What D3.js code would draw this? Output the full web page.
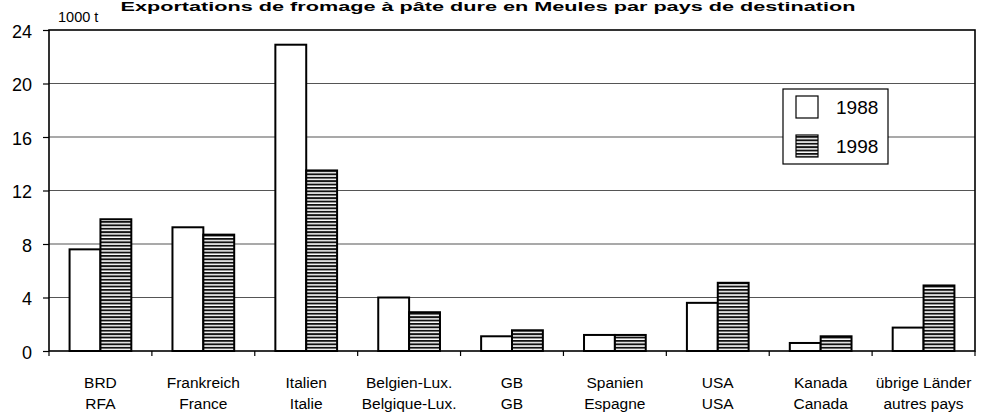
<!DOCTYPE html>
<html><head><meta charset="utf-8">
<script src="https://cdn.jsdelivr.net/npm/d3@7"></script>
<style>body{margin:0;background:#fff}svg{display:block}text{font-family:"Liberation Sans",Arial,sans-serif}</style>
</head><body><svg id="c" width="989" height="412"></svg>
<script>
const title = "Exportations de fromage à pâte dure en Meules par pays de destination";
const catDe = ["BRD","Frankreich","Italien","Belgien-Lux.","GB","Spanien","USA","Kanada","übrige Länder"];
const catFr = ["RFA","France","Italie","Belgique-Lux.","GB","Espagne","USA","Canada","autres pays"];
const seriesNames = ["1988","1998"];
const v1988 = [7.6, 9.25, 22.9, 4.0, 1.1, 1.2, 3.6, 0.6, 1.75];
const v1998 = [9.85, 8.7, 13.5, 2.9, 1.55, 1.2, 5.1, 1.1, 4.9];
const yTicks = [0,4,8,12,16,20,24];
const unit = "1000 t";

const svg = d3.select("#c");
const m = {l:49, r:975, t:30, b:351};
const defs = svg.append("defs");
const pat = defs.append("pattern").attr("id","hatch").attr("patternUnits","userSpaceOnUse")
  .attr("width",8).attr("height",3.4);
pat.append("rect").attr("width",8).attr("height",3.4).attr("fill","#fff");
pat.append("rect").attr("y",0).attr("width",8).attr("height",1.9).attr("fill","#111");

const x = d3.scaleBand().domain(d3.range(catDe.length)).range([m.l,m.r]).paddingInner(0.4).paddingOuter(0.2);
const xs = d3.scaleBand().domain([0,1]).range([0,x.bandwidth()]);
const y = d3.scaleLinear().domain([0,24]).range([m.b,m.t]);

// title
svg.append("text").attr("x",488).attr("y",11).attr("text-anchor","middle")
  .attr("font-size",13).attr("font-weight","bold")
  .attr("textLength",735).attr("lengthAdjust","spacingAndGlyphs").text(title);

// gridlines
svg.append("g").selectAll("line").data(yTicks.filter(d=>d>0&&d<24)).join("line")
  .attr("x1",m.l).attr("x2",m.r).attr("y1",d=>y(d)).attr("y2",d=>y(d))
  .attr("stroke","#555").attr("stroke-width",1.2);

// y axis
const ya = svg.append("g").attr("transform",`translate(${m.l},0)`)
  .call(d3.axisLeft(y).tickValues(yTicks).tickSize(6).tickPadding(11));
ya.select(".domain").remove();
ya.selectAll("line").attr("stroke","#000").attr("stroke-width",1.2);
ya.selectAll("text").attr("font-size",18).attr("fill","#000").attr("dy","0.4em")
  .style("font-family","Liberation Sans, Arial, sans-serif");

svg.append("text").attr("x",58).attr("y",22).attr("font-size",14.5).text(unit);

// bars
const data = catDe.map((c,i)=>({i, vals:[v1988[i], v1998[i]]}));
const g = svg.append("g").selectAll("g").data(data).join("g")
  .attr("transform",d=>`translate(${x(d.i)},0)`);
g.selectAll("rect").data(d=>d.vals.map((v,k)=>({v,k}))).join("rect")
  .attr("x",d=>xs(d.k)).attr("width",xs.bandwidth())
  .attr("y",d=>y(d.v)).attr("height",d=>m.b-y(d.v))
  .attr("fill",d=>d.k===0?"#fff":"url(#hatch)")
  .attr("stroke","#000").attr("stroke-width",2);

// frame
svg.append("rect").attr("x",m.l).attr("y",m.t).attr("width",m.r-m.l).attr("height",m.b-m.t)
  .attr("fill","none").attr("stroke","#000").attr("stroke-width",1.6);

// x ticks at category boundaries
const bounds = d3.range(catDe.length+1).map(i=>m.l+i*(m.r-m.l)/catDe.length);
svg.append("g").selectAll("line").data(bounds).join("line")
  .attr("x1",d=>d).attr("x2",d=>d).attr("y1",m.b).attr("y2",m.b+5)
  .attr("stroke","#000").attr("stroke-width",1.2);

// category labels
const lab = svg.append("g").selectAll("text").data(catDe).join("text")
  .attr("x",(d,i)=>x(i)+x.bandwidth()/2).attr("text-anchor","middle").attr("font-size",15.5);
lab.append("tspan").attr("x",(d,i)=>x(i)+x.bandwidth()/2).attr("y",388).text(d=>d);
lab.append("tspan").attr("x",(d,i)=>x(i)+x.bandwidth()/2).attr("y",409).text((d,i)=>catFr[i]);

// legend
const lg = svg.append("g");
lg.append("rect").attr("x",783).attr("y",89).attr("width",105).attr("height",75)
  .attr("fill","#fff").attr("stroke","#000").attr("stroke-width",1.2);
seriesNames.forEach((s,k)=>{
  lg.append("rect").attr("x",796).attr("y",96+k*39).attr("width",22).attr("height",22)
    .attr("fill",k===0?"#fff":"url(#hatch)").attr("stroke","#000").attr("stroke-width",1.2);
  lg.append("text").attr("x",836).attr("y",114+k*39).attr("font-size",19).text(s);
});
</script></body></html>
